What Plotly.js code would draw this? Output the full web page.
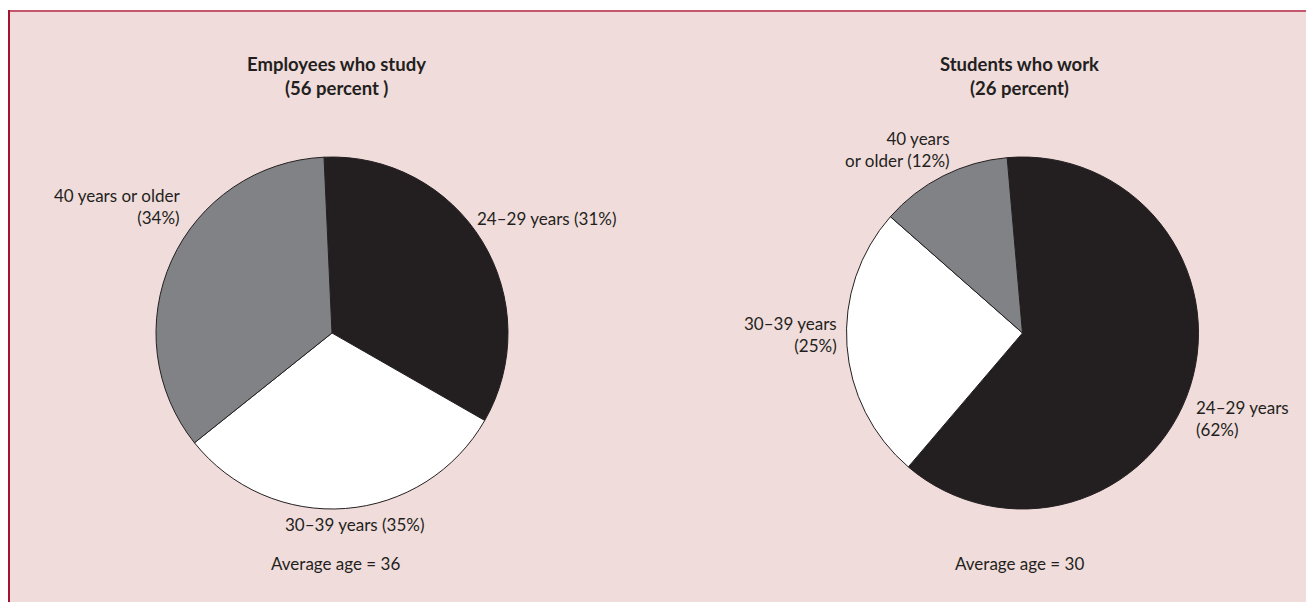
<!DOCTYPE html>
<html>
<head>
<meta charset="utf-8">
<script src="https://cdn.plot.ly/plotly-3.0.1.min.js"></script>
<style>html,body{margin:0;padding:0;background:#fff;}#chart{width:1306px;height:602px;}</style>
</head>
<body>
<div id="chart"></div>
<script>
// ---- data ----
const groupTitles = ['Employees who study', 'Students who work'];
const groupShares = ['(56 percent )', '(26 percent)'];
const ageBands = ['24–29 years', '30–39 years', '40 years or older'];
const employeePct = [31, 35, 34];     // printed percentages
const employeeSlices = [34, 31, 35];  // slice sizes as drawn in the picture
const studentPct = [62, 25, 12];
const averageAge = [36, 30];

const sliceColors = ['#231f20', '#ffffff', '#808285'];
const ink = '#231f20';
const W = 1306, H = 602;
const px = x => x / W;
const py = y => 1 - y / H;

function pieTrace(values, names, cx, cy, r, rot) {
  return {
    type: 'pie', values: values, labels: names, sort: false,
    direction: 'clockwise', rotation: rot,
    marker: {colors: sliceColors, line: {color: ink, width: 1}},
    textinfo: 'none', hoverinfo: 'none', showlegend: false,
    domain: {x: [px(cx - r), px(cx + r)], y: [py(cy + r), py(cy - r)]}
  };
}

const traces = [
  pieTrace(employeeSlices, ageBands, 332, 333, 176, -2.6),
  pieTrace(studentPct, ageBands, 1022.5, 333, 176, -5)
];

const font = {family: 'Lato, "Open Sans", sans-serif', size: 17, color: ink};
const bold = {family: 'Lato, "Open Sans", sans-serif', size: 18.5, color: ink, weight: 700};
function ann(text, x, y, xa, f) {
  return {text: text, x: px(x), y: py(y), xref: 'paper', yref: 'paper',
    xanchor: xa, yanchor: 'middle', align: xa === 'left' ? 'left' : (xa === 'right' ? 'right' : 'center'),
    showarrow: false, font: f || font};
}
const lbl = (i, arr) => ageBands[i] + ' (' + arr[i] + '%)';

const annotations = [
  ann('<b>' + groupTitles[0] + '</b>', 336.7, 64, 'center', bold),
  ann('<b>' + groupShares[0] + '</b>', 336.7, 88, 'center', bold),
  ann('<b>' + groupTitles[1] + '</b>', 1019.5, 64, 'center', bold),
  ann('<b>' + groupShares[1] + '</b>', 1019.5, 88, 'center', bold),
  // employees pie
  ann(ageBands[2] + '<br>(' + employeePct[2] + '%)', 182, 206.5, 'right'),
  ann(lbl(0, employeePct), 475, 218, 'left'),
  ann(lbl(1, employeePct), 354, 524, 'center'),
  ann('Average age = ' + averageAge[0], 335, 563, 'center'),
  // students pie
  ann(ageBands[2].replace(' or', '<br>or') + ' (' + studentPct[2] + '%)', 952, 149, 'right'),
  ann(ageBands[1] + '<br>(' + studentPct[1] + '%)', 839, 334, 'right'),
  ann(ageBands[0] + '<br>(' + studentPct[0] + '%)', 1194, 418, 'left'),
  ann('Average age = ' + averageAge[1], 1019.5, 563, 'center')
];

const shapes = [
  {type: 'rect', xref: 'paper', yref: 'paper', x0: 0, x1: 1, y0: py(10), y1: 1, fillcolor: '#ffffff', line: {width: 0}},
  {type: 'rect', xref: 'paper', yref: 'paper', x0: 0, x1: px(8), y0: 0, y1: 1, fillcolor: '#ffffff', line: {width: 0}},
  {type: 'line', xref: 'paper', yref: 'paper', x0: px(8), x1: 1, y0: py(11), y1: py(11), line: {color: '#c4566e', width: 2}},
  {type: 'line', xref: 'paper', yref: 'paper', x0: px(9), x1: px(9), y0: 0, y1: py(10), line: {color: '#a3142e', width: 2}}
];

const layout = {
  width: W, height: H, margin: {l: 0, r: 0, t: 0, b: 0},
  paper_bgcolor: '#f0dcdb', plot_bgcolor: '#f0dcdb',
  showlegend: false, annotations: annotations, shapes: shapes
};
Plotly.newPlot('chart', traces, layout, {displayModeBar: false, staticPlot: true});
</script>
</body>
</html>
